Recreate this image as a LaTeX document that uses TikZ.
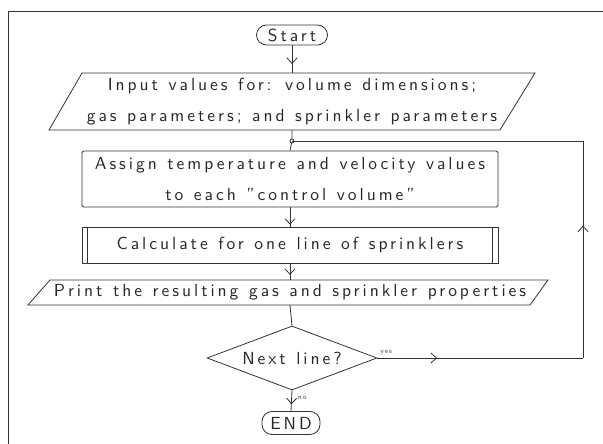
\documentclass[tikz,border=0pt]{standalone}
\usepackage{fontspec}
\setmainfont{lmsans10-regular}[Extension=.otf, LetterSpace=17, WordSpace=1.2]
\usetikzlibrary{shapes.geometric,arrows.meta,decorations.markings}

\tikzset{
  ink/.style={draw=black!80, line width=0.8pt},
  txt/.style={text=black!85, font=\fontsize{17.5}{31}\selectfont, inner sep=0pt},
  terminal/.style={ink, txt, rectangle, rounded corners=10pt},
  procbox/.style={ink, txt, rectangle, rounded corners=1.5pt, align=center},
  iobox/.style={txt, align=center},
  decision/.style={ink, txt, diamond, aspect=2.66, inner sep=0pt},
  flow/.style={ink},
  vtip/.style={postaction={decorate}, decoration={markings,
      mark=at position #1 with {\arrow{Straight Barb[length=5.5pt,width=10pt,line width=0.8pt]}}}},
  tag/.style={text=black!80, font=\fontsize{7}{7}\selectfont, inner sep=0pt}
}

\begin{document}
\begin{tikzpicture}[x=1pt,y=-1pt]
  \useasboundingbox (0,0) rectangle (603,444);

  % outer frame (open on the right and bottom)
  \draw[ink, line width=1pt] (8,444) -- (8,12) -- (603,12);

  % start terminal
  \node[terminal, minimum width=71pt, minimum height=20pt] (start) at (292,35) {Start};

  % input parallelogram
  \draw[ink] (82,73) -- (535,73) -- (500,130) -- (49,130) -- cycle;
  \node[iobox, minimum width=400pt, minimum height=57pt] (input) at (292,101.5)
    {Input values for: volume dimensions;\\gas parameters; and sprinkler parameters};

  % loop junction
  \coordinate (junc) at (292,141);

  % assignment box
  \node[procbox, minimum width=416pt, minimum height=56pt] (assign) at (290,179)
    {Assign temperature and velocity values\\to each "control volume"};

  % predefined process box
  \node[procbox, rounded corners=0pt, minimum width=416pt, minimum height=36pt] (calc) at (290,245)
    {Calculate for one line of sprinklers};
  \draw[ink] ([xshift=6pt]calc.north west) -- ([xshift=6pt]calc.south west);
  \draw[ink] ([xshift=-6pt]calc.north east) -- ([xshift=-6pt]calc.south east);

  % output parallelogram
  \draw[ink] (50,280) -- (548,280) -- (530,305) -- (28,305) -- cycle;
  \node[iobox, minimum width=480pt, minimum height=25pt] (print) at (290,292.5)
    {Print the resulting gas and sprinkler properties};

  % decision
  \node[decision, minimum width=170pt, minimum height=64pt] (dec) at (292,358) {Next line?};

  % end terminal
  \node[terminal, minimum width=58pt, minimum height=23pt] (end) at (291,423) {END};

  % loop corners
  \coordinate (cr1) at (583,358);
  \coordinate (cr2) at (583,141);

  % connectors
  \draw[flow, vtip=0.68] (start.south) -- (input.north);
  \draw[flow] (input.south) -- (junc) -- (assign.north);
  \draw[ink, fill=white] (junc) circle (2pt);
  \draw[flow, vtip=0.9] (assign.south) -- (calc.north);
  \draw[flow, vtip=0.7] (calc.south) -- (print.north);
  \draw[flow] (print.south) -- (dec.north);
  \draw[flow, vtip=0.67] (dec.south) -- (end.north);
  \draw[flow, vtip=0.29] (dec.east) -- (cr1);
  \draw[flow, vtip=0.61] (cr1) -- (cr2);
  \draw[flow] (cr2) -- (junc);

  % branch labels
  \node[tag, anchor=south west] (yes) at ([xshift=3pt,yshift=3pt]dec.east) {yes};
  \node[tag, anchor=west] (no) at ([xshift=6pt,yshift=-8pt]dec.south) {no};
\end{tikzpicture}
\end{document}
